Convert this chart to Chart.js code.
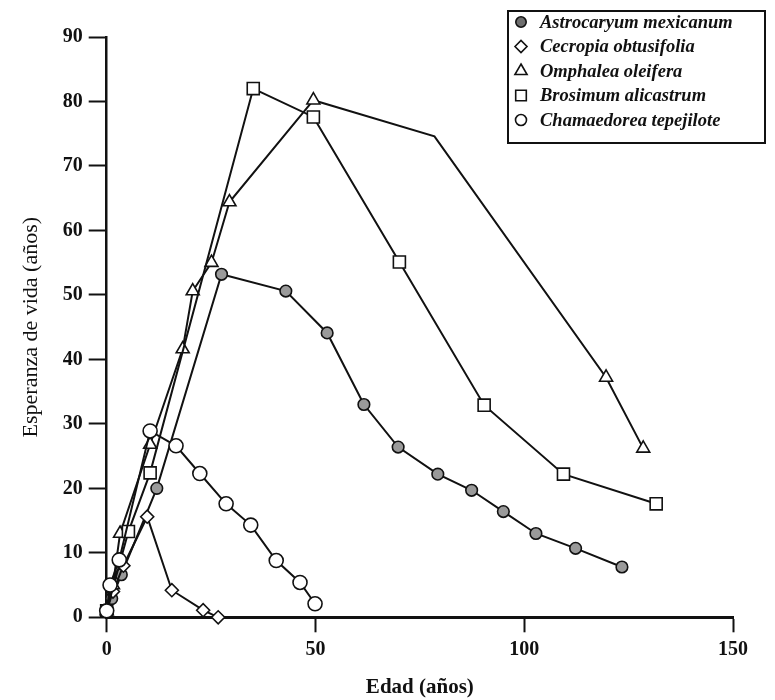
<!DOCTYPE html>
<html>
<head>
<meta charset="utf-8">
<script src="https://cdn.jsdelivr.net/npm/chart.js@4.4.1/dist/chart.umd.min.js"></script>
<style>
  html, body { margin: 0; padding: 0; background: #ffffff; }
  #wrap { width: 775px; height: 700px; position: relative; }
</style>
</head>
<body>
<div id="wrap"><canvas id="c" width="775" height="700"></canvas></div>
<script>
// ---- data ----
const seriesNames = ["Astrocaryum mexicanum", "Cecropia obtusifolia", "Omphalea oleifera", "Brosimum alicastrum", "Chamaedorea tepejilote"];

const astroX = [0, 1.2, 3.5, 12, 27.5, 42.9, 52.8, 61.6, 69.8, 79.3, 87.4, 95.0, 102.8, 112.3, 123.4];
const astroY = [1, 2.9, 6.6, 20, 53.2, 50.6, 44.1, 33.0, 26.4, 22.2, 19.7, 16.4, 13.0, 10.7, 7.8];

const cecroX = [0, 1.5, 4, 9.7, 15.6, 23.1, 26.7];
const cecroY = [1, 4, 8, 15.6, 4.2, 1.1, 0];

const omphX = [0, 1.5, 3.2, 10.4, 18.2, 20.6, 25.1, 29.4, 49.5, 78.5, 119.6, 128.5];
const omphY = [1, 5, 13, 26.8, 41.6, 50.6, 55.0, 64.4, 80.2, 74.6, 37.2, 26.2];

const brosX = [0, 5.2, 10.4, 35.1, 49.5, 70.1, 90.4, 109.4, 131.6];
const brosY = [1, 13.3, 22.4, 82.0, 77.6, 55.1, 32.9, 22.2, 17.6];

const chamX = [0, 0.8, 3.0, 10.4, 16.6, 22.3, 28.6, 34.5, 40.6, 46.3, 49.9];
const chamY = [1, 5.0, 8.9, 28.9, 26.6, 22.3, 17.6, 14.3, 8.8, 5.4, 2.1];

const xTicks = [0, 50, 100, 150];
const yTicks = [0, 10, 20, 30, 40, 50, 60, 70, 80, 90];

const xTitle = "Edad (años)";
const yTitle = "Esperanza de vida (años)";
// --------------------------------------

function pts(xs, ys) { return xs.map((x, i) => ({ x: x, y: ys[i] })); }

const serif = "'Liberation Serif', 'DejaVu Serif', serif";

const styles = [
  { pointStyle: 'circle', bg: '#9a9a9a', legendBg: '#6e6e6e', r: 5.8, lr: 5.2 },
  { pointStyle: 'rectRot', bg: '#ffffff', legendBg: '#ffffff', r: 6.5, lr: 6 },
  { pointStyle: 'triangle', bg: '#ffffff', legendBg: '#ffffff', r: 7.5, lr: 7 },
  { pointStyle: 'rect', bg: '#ffffff', legendBg: '#ffffff', r: 8.5, lr: 7.5 },
  { pointStyle: 'circle', bg: '#ffffff', legendBg: '#ffffff', r: 7, lr: 5.5 }
];
const allData = [pts(astroX, astroY), pts(cecroX, cecroY), pts(omphX, omphY), pts(brosX, brosY), pts(chamX, chamY)];

const datasets = seriesNames.map((name, i) => ({
  label: name,
  data: allData[i],
  showLine: true,
  borderColor: '#111',
  borderWidth: 2,
  pointStyle: styles[i].pointStyle,
  pointBackgroundColor: styles[i].bg,
  pointBorderColor: '#111',
  pointBorderWidth: 1.6,
  pointRadius: (i === 2) ? (ctx => ctx.dataIndex === 9 ? 0 : styles[i].r) : styles[i].r,
  tension: 0,
  clip: false,
  order: 5 - i
}));

const legendBox = {
  id: 'legendBox',
  afterDraw(chart) {
    const ctx = chart.ctx;
    const left = 508, top = 11, right = 765, bottom = 143;
    ctx.save();
    ctx.strokeStyle = '#111';
    ctx.lineWidth = 2;
    ctx.strokeRect(left, top, right - left, bottom - top);
    ctx.font = "italic bold 18.5px " + serif;
    ctx.textBaseline = 'middle';
    seriesNames.forEach((name, i) => {
      const y = 22 + i * 24.5;
      ctx.fillStyle = styles[i].legendBg;
      ctx.strokeStyle = '#111';
      ctx.lineWidth = 1.6;
      Chart.helpers.drawPoint(ctx, { pointStyle: styles[i].pointStyle, radius: styles[i].lr, borderWidth: 1.6 }, 521, y);
      ctx.fillStyle = '#111';
      ctx.fillText(name, 540, y + 1);
    });
    ctx.restore();
  }
};

new Chart(document.getElementById('c'), {
  type: 'scatter',
  data: { datasets: datasets },
  options: {
    responsive: false,
    animation: false,
    layout: { padding: { left: 0, top: 37, right: 42, bottom: 0 } },
    plugins: {
      legend: { display: false },
      tooltip: { enabled: false }
    },
    scales: {
      x: {
        type: 'linear',
        min: 0, max: 150,
        afterBuildTicks: s => { s.ticks = xTicks.map(v => ({ value: v })); },
        afterFit: s => { s.height = 82.7; },
        border: { display: true, color: '#111', width: 3 },
        grid: { display: true, drawOnChartArea: false, drawTicks: true, tickLength: 15, tickWidth: 2, tickColor: '#111', color: '#111' },
        ticks: { color: '#111', font: { family: serif, size: 20, weight: 'bold' }, padding: 6, maxRotation: 0 },
        title: { display: true, text: xTitle, color: '#111', font: { family: serif, size: 21, weight: 'bold' }, padding: { top: 6, bottom: 0 } }
      },
      y: {
        type: 'linear',
        min: 0, max: 90,
        afterBuildTicks: s => { s.ticks = yTicks.map(v => ({ value: v })); },
        afterFit: s => { s.width = 106.7; },
        border: { display: true, color: '#111', width: 2.5 },
        grid: { display: true, drawOnChartArea: false, drawTicks: true, tickLength: 18, tickWidth: 2, tickColor: '#111', color: '#111' },
        ticks: { color: '#111', font: { family: serif, size: 20, weight: 'bold' }, padding: 6 },
        title: { display: true, text: yTitle, color: '#111', font: { family: serif, size: 22, weight: 'normal' }, padding: { top: 18, bottom: 0 } }
      }
    }
  },
  plugins: [legendBox]
});
</script>
</body>
</html>
